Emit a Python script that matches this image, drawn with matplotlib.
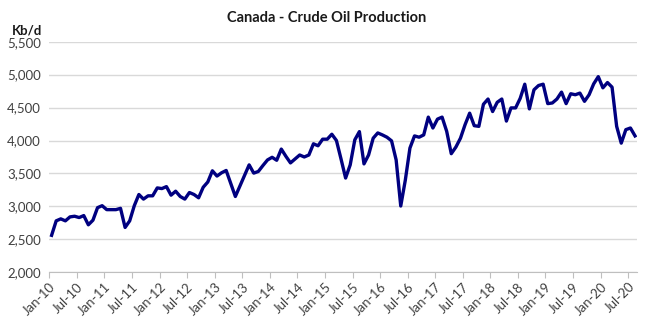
import matplotlib
matplotlib.use("Agg")
import matplotlib.pyplot as plt

# Monthly crude oil production, Kb/d, Jan-10 .. Aug-20
prod_2010 = [2560, 2780, 2810, 2780, 2840, 2850, 2830, 2860, 2720, 2790, 2980, 3010]
prod_2011 = [2950, 2950, 2950, 2970, 2680, 2780, 3010, 3180, 3110, 3160, 3160, 3280]
prod_2012 = [3270, 3300, 3170, 3230, 3150, 3110, 3210, 3180, 3130, 3290, 3370, 3540]
prod_2013 = [3460, 3510, 3545, 3350, 3150, 3310, 3470, 3630, 3505, 3530, 3620, 3705]
prod_2014 = [3745, 3700, 3870, 3760, 3660, 3720, 3780, 3750, 3780, 3950, 3920, 4020]
prod_2015 = [4020, 4095, 4000, 3720, 3430, 3630, 4010, 4135, 3645, 3780, 4035, 4115]
prod_2016 = [4085, 4050, 3995, 3705, 3005, 3400, 3885, 4070, 4050, 4085, 4355, 4190]
prod_2017 = [4325, 4355, 4140, 3800, 3900, 4035, 4240, 4415, 4225, 4215, 4550, 4630]
prod_2018 = [4440, 4580, 4630, 4295, 4495, 4495, 4640, 4855, 4480, 4770, 4835, 4855]
prod_2019 = [4560, 4570, 4630, 4735, 4560, 4710, 4695, 4720, 4595, 4695, 4860, 4970]
prod_2020 = [4800, 4880, 4810, 4215, 3960, 4165, 4190, 4070]

production = (prod_2010 + prod_2011 + prod_2012 + prod_2013 + prod_2014 + prod_2015
              + prod_2016 + prod_2017 + prod_2018 + prod_2019 + prod_2020)

years = list(range(10, 21))
tick_labels = []
for yy in years:
    tick_labels += [f"Jan-{yy}", f"Jul-{yy}"]

y_ticks = list(range(2000, 5501, 500))

plt.rcParams["font.family"] = ["Lato", "DejaVu Sans"]

fig = plt.figure(figsize=(6.53, 3.26), dpi=100)
ax = fig.add_axes([0.0755, 0.165, 0.9005, 0.707])

xs = list(range(len(production)))
ax.plot(xs, production, color="#000080", linewidth=2.4, solid_joinstyle="round")

ax.set_xlim(-0.5, len(production) - 0.5)
ax.set_ylim(2000, 5500)

ax.set_yticks(y_ticks)
ax.set_yticklabels([f"{v:,}" for v in y_ticks], fontsize=9.5, color="#404040")
ax.yaxis.grid(True, color="#d9d9d9", linewidth=1.0)
ax.set_axisbelow(True)

tick_pos = [-0.5 + 6 * k for k in range(len(tick_labels))]
ax.set_xticks(tick_pos)
ax.set_xticklabels(tick_labels, rotation=45, ha="right", rotation_mode="anchor",
                   fontsize=9.5, color="#404040")

for side in ("left", "right", "top"):
    ax.spines[side].set_visible(False)
ax.spines["bottom"].set_color("#bfbfbf")
ax.tick_params(axis="y", length=0, pad=6)
ax.tick_params(axis="x", length=4, color="#bfbfbf", pad=2)

fig.text(0.5, 0.945, "Canada - Crude Oil Production", ha="center", va="center",
         fontsize=10.5, fontweight="bold", color="#1a1a1a")
fig.text(0.018, 0.905, "Kb/d", ha="left", va="center", fontsize=9.5,
         fontweight="bold", color="#1a1a1a")

fig.savefig("out.png", dpi=100)
